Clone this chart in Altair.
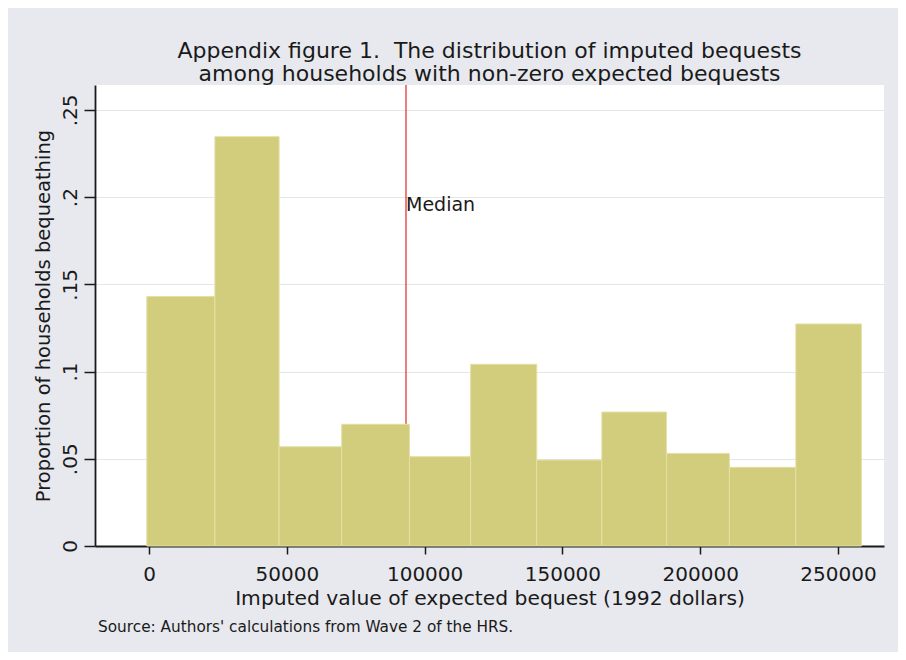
import altair as alt
import pandas as pd

# Histogram bins (1992 dollars) and proportions
bin_left = [-800, 23900, 47200, 69900, 94500, 116700, 140700, 164300, 187800, 210600, 234700]
bin_right = [23900, 47200, 69900, 94500, 116700, 140700, 164300, 187800, 210600, 234700, 258500]
proportion = [0.1430, 0.2347, 0.0569, 0.0698, 0.0512, 0.1042, 0.0493, 0.0768, 0.0531, 0.0451, 0.1273]

median_value = 93250
median_label = "Median"
median_label_y = 0.1955

x_ticks = [0, 50000, 100000, 150000, 200000, 250000]
y_ticks = [0, 0.05, 0.10, 0.15, 0.20, 0.25]

title_lines = ["Appendix figure 1.\u00a0 The distribution of imputed bequests",
               "among households with non-zero expected bequests"]
x_title = "Imputed value of expected bequest (1992 dollars)"
y_title = "Proportion of households bequeathing"
source_note = "Source: Authors' calculations from Wave 2 of the HRS."

FONT = "DejaVu Sans"

bars_df = pd.DataFrame({"lo": bin_left, "hi": bin_right, "p": proportion})
median_df = pd.DataFrame({"m": [median_value], "ly": [median_label_y], "lab": [median_label]})

x_scale = alt.Scale(domain=[-19600, 266700], nice=False, zero=False)
y_scale = alt.Scale(domain=[0, 0.2643], nice=False)

x_axis = alt.Axis(values=x_ticks, format="d", title=x_title, grid=False,
                  tickSize=8, tickWidth=1.5, tickColor="#1a1a1a",
                  domainColor="#1a1a1a", domainWidth=1.8,
                  labelFont=FONT, labelFontSize=20, labelColor="#1a1a1a", labelPadding=10,
                  titleFont=FONT, titleFontSize=20.3, titleFontWeight="normal",
                  titleColor="#1a1a1a", titlePadding=4)

y_axis = alt.Axis(values=y_ticks, title=y_title, grid=True, gridColor="#e3e6ec", gridWidth=1,
                  labelExpr="datum.value == 0 ? '0' : replace(format(datum.value, '.2~f'), '0.', '.')",
                  tickSize=11, tickWidth=1.5, tickColor="#1a1a1a",
                  domainColor="#1a1a1a", domainWidth=1.8,
                  labelFont=FONT, labelFontSize=20, labelColor="#1a1a1a",
                  labelAngle=270, labelAlign="center", labelBaseline="bottom", labelPadding=4,
                  titleFont=FONT, titleFontSize=19.5, titleFontWeight="normal",
                  titleColor="#1a1a1a", titlePadding=7)

rule = alt.Chart(median_df).mark_rule(color="#e0383a", strokeWidth=1.3).encode(
    x=alt.X("m:Q", scale=x_scale, axis=x_axis),
    y=alt.value(0),
    y2=alt.value(461),
)

bars = alt.Chart(bars_df).mark_rect(color="#d2cd7c", stroke="#e4e0a4", strokeWidth=1).encode(
    x=alt.X("lo:Q", scale=x_scale, axis=x_axis),
    x2="hi:Q",
    y=alt.Y("p:Q", scale=y_scale, axis=y_axis),
    y2=alt.datum(0),
)

label = alt.Chart(median_df).mark_text(align="left", baseline="middle", font=FONT,
                                       fontSize=19, color="#1a1a1a", dx=0).encode(
    x=alt.X("m:Q", scale=x_scale),
    y=alt.Y("ly:Q", scale=y_scale),
    text="lab:N",
)

note = alt.Chart(pd.DataFrame({"t": [source_note]})).mark_text(
    align="left", baseline="middle", font=FONT, fontSize=15.3, color="#1a1a1a"
).encode(x=alt.value(3), y=alt.value(542), text="t:N")

chart = alt.layer(rule, bars, label, note).properties(
    width=789, height=461,
    title=alt.TitleParams(title_lines, font=FONT, fontSize=22, fontWeight="normal",
                          color="#1a1a1a", anchor="middle", lineHeight=23, offset=-2),
    background="#e7e9ee",
    autosize=alt.AutoSizeParams(type="none"),
    padding={"left": 87, "top": 77, "right": 14, "bottom": 106},
).configure_view(fill="white", strokeWidth=0)

chart.save("out.html", embed_options={"renderer": "svg", "actions": False})
